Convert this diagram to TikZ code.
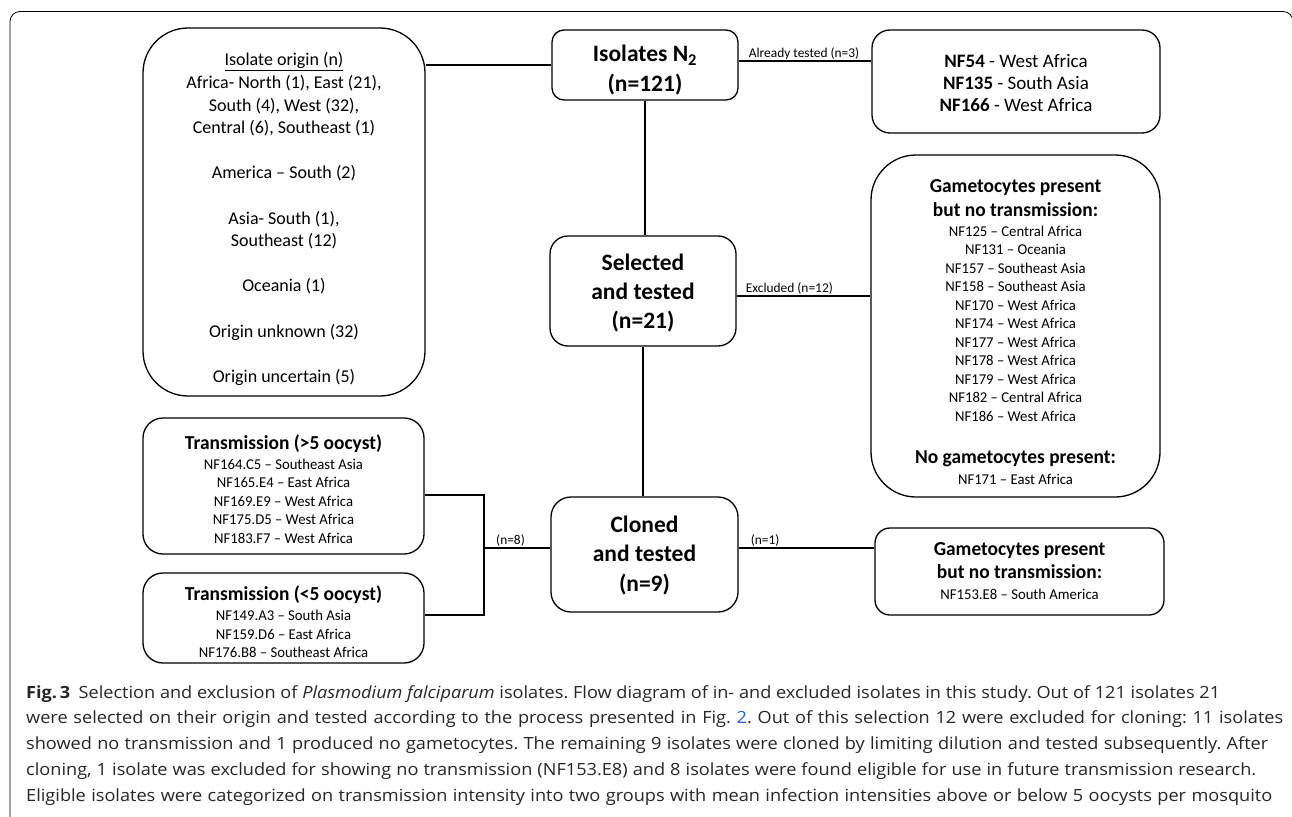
\documentclass[tikz,border=0pt]{standalone}
\usepackage{fontspec}
\setmainfont{Carlito}
\newfontfamily\capfont[FakeStretch=1.08]{Open Sans}
\newfontfamily\listfont[FakeStretch=0.98]{Carlito}
\usepackage{xcolor}
\definecolor{linkblue}{RGB}{40,95,205}
\usetikzlibrary{positioning}

\begin{document}
\begin{tikzpicture}[x=1pt, y=-1pt,
    box/.style={draw, line width=1.3pt, rounded corners=#1, inner sep=0pt},
    txt/.style={align=center, inner sep=0pt},
    conn/.style={line width=1.1pt},
    head/.style={txt, font=\fontsize{23.5}{30}\selectfont\bfseries},
    list/.style={txt, font=\listfont\fontsize{15}{18.5}\selectfont},
    tag/.style={font=\fontsize{13.4}{15}\selectfont, inner sep=1pt}]
  \useasboundingbox (0,0) rectangle (1292,816);
  \newcommand\hd{\fontsize{19.8}{18.5}\selectfont\bfseries}

  % outer frame
  \draw[line width=0.8pt, rounded corners=10pt] (10,840) -- (10,11.5) -- (1293,11.5) -- (1293,840);

  % boxes
  \node[box=45pt, minimum width=282pt, minimum height=368pt] (origin) at (284,212) {};
  \node[txt, font=\fontsize{18}{22.6}\selectfont] (origintext) at ([yshift=-7pt]origin.center)
    {\underline{Isolate origin (n)}\\
     Africa- North (1), East (21),\\
     South (4), West (32),\\
     Central (6), Southeast (1)\\[22.6pt]
     America – South (2)\\[22.6pt]
     Asia- South (1),\\
     Southeast (12)\\[22.6pt]
     Oceania (1)\\[22.6pt]
     Origin unknown (32)\\[22.6pt]
     Origin uncertain (5)};

  \node[box=12pt, minimum width=186pt, minimum height=70pt] (isolates) at (645,65) {};
  \node[head] (isolatestext) at ([yshift=-5.5pt]isolates.center) {Isolates N\textsubscript{2}\\(n=121)};

  \node[box=18pt, minimum width=288pt, minimum height=103pt] (tested) at (1016,81.5) {};
  \node[txt, font=\fontsize{19}{22}\selectfont] (testedtext) at ([yshift=-1.5pt]tested.center)
    {\textbf{NF54} - West Africa\\
     \textbf{NF135} - South Asia\\
     \textbf{NF166} - West Africa};

  \node[box=18pt, minimum width=186pt, minimum height=110pt] (selected) at (643,291) {};
  \node[head, font=\fontsize{23.5}{29}\selectfont\bfseries] (selectedtext) at ([yshift=-2pt]selected.center)
    {Selected\\and tested\\(n=21)};

  \node[box=45pt, minimum width=289pt, minimum height=342pt] (excluded) at (1015.5,326) {};
  \node[list] (excludedtext) at ([yshift=-6pt]excluded.center)
    {\hd Gametocytes present\\[5.5pt]
     \hd but no transmission:\\[1.5pt]
     NF125 – Central Africa\\
     NF131 – Oceania\\
     NF157 – Southeast Asia\\
     NF158 – Southeast Asia\\
     NF170 – West Africa\\
     NF174 – West Africa\\
     NF177 – West Africa\\
     NF178 – West Africa\\
     NF179 – West Africa\\
     NF182 – Central Africa\\
     NF186 – West Africa\\[23.5pt]
     \hd No gametocytes present:\\[2.5pt]
     NF171 – East Africa};

  \node[box=20pt, minimum width=187pt, minimum height=115pt] (cloned) at (644.5,554.5) {};
  \node[head, font=\fontsize{23.5}{29.5}\selectfont\bfseries] (clonedtext) at ([yshift=-1pt]cloned.center)
    {Cloned\\and tested\\(n=9)};

  \node[box=20pt, minimum width=281pt, minimum height=136pt] (high) at (283.5,486) {};
  \node[list] (hightext) at ([yshift=-3pt]high.center)
    {\hd Transmission (>5 oocyst)\\[1.5pt]
     NF164.C5 – Southeast Asia\\
     NF165.E4 – East Africa\\
     NF169.E9 – West Africa\\
     NF175.D5 – West Africa\\
     NF183.F7 – West Africa};

  \node[box=20pt, minimum width=281pt, minimum height=90pt] (low) at (283.5,618) {};
  \node[list] (lowtext) at ([yshift=-4pt]low.center)
    {\hd Transmission (<5 oocyst)\\[1.5pt]
     NF149.A3 – South Asia\\
     NF159.D6 – East Africa\\
     NF176.B8 – Southeast Africa};

  \node[box=15pt, minimum width=289pt, minimum height=87pt] (nontrans) at (1019.5,571.5) {};
  \node[list] (nontranstext) at (nontrans.center)
    {\hd Gametocytes present\\[4.5pt]
     \hd but no transmission:\\[2.5pt]
     NF153.E8 – South America};

  % connectors
  \draw[conn] (isolates.west) -- (isolates.west -| origin.east);
  \draw[conn] ([yshift=4pt]isolates.east) -- ([yshift=4pt]isolates.east -| tested.west);
  \node[tag, anchor=south west] (lbltested) at ([xshift=9pt, yshift=4pt]isolates.east) {Already tested (n=3)};
  \draw[conn] (isolates.south) -- (isolates.south |- selected.north);
  \draw[conn] ([yshift=-5pt]selected.east) -- ([yshift=-5pt]selected.east -| excluded.west);
  \node[tag, anchor=south west] (lblexcl) at ([xshift=8pt, yshift=-5pt]selected.east) {Excluded (n=12)};
  \draw[conn] (selected.south) -- (selected.south |- cloned.north);

  \coordinate (fork) at (484,548);
  \draw[conn] ([yshift=-9pt]high.east) -| (fork) |- ([yshift=3pt]low.east);
  \draw[conn] (fork) -- (fork -| cloned.west);
  \node[tag, anchor=south west] (lbleight) at ([xshift=11pt]fork) {(n=8)};
  \draw[conn] (fork -| cloned.east) -- (fork -| nontrans.west);
  \node[tag, anchor=south west] (lblone) at ([xshift=11pt]fork -| cloned.east) {(n=1)};

  % caption
  \node[anchor=north west, align=left, inner sep=0pt, text=black!85,
        font=\capfont\fontsize{16.8}{25.8}\selectfont\frenchspacing] (caption) at (26,685)
    {\makebox[1194pt][s]{\textbf{Fig.\,3}\hspace{0.5em}Selection and exclusion of \textit{Plasmodium falciparum} isolates. Flow diagram of in- and excluded isolates in this study. Out of 121 isolates 21}\\
     \makebox[1257pt][s]{were selected on their origin and tested according to the process presented in Fig.~\textcolor{linkblue}{2}. Out of this selection 12 were excluded for cloning: 11 isolates}\\
     \makebox[1242pt][s]{showed no transmission and 1 produced no gametocytes. The remaining 9 isolates were cloned by limiting dilution and tested subsequently. After}\\
     \makebox[1230pt][s]{cloning, 1 isolate was excluded for showing no transmission (NF153.E8) and 8 isolates were found eligible for use in future transmission research.}\\
     \makebox[1246pt][s]{Eligible isolates were categorized on transmission intensity into two groups with mean infection intensities above or below 5 oocysts per mosquito}};
\end{tikzpicture}
\end{document}
